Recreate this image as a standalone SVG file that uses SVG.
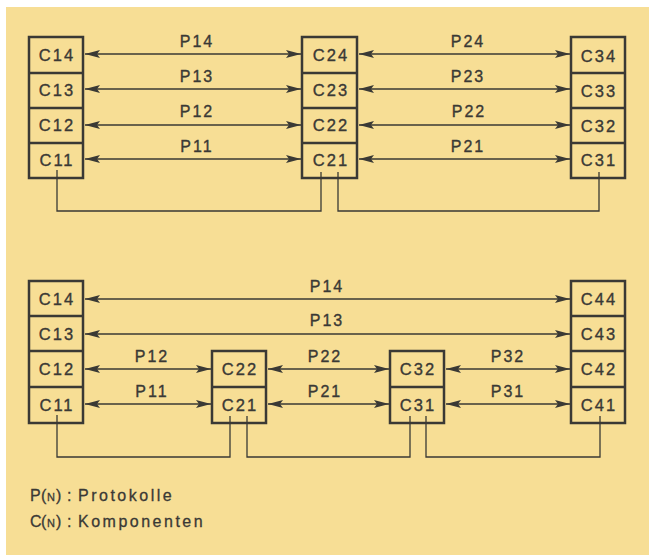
<svg xmlns="http://www.w3.org/2000/svg" width="649" height="555" viewBox="0 0 649 555">
<defs>
<marker id="ah" viewBox="0 0 15 8" refX="15" refY="4" markerWidth="15" markerHeight="8" markerUnits="userSpaceOnUse" orient="auto-start-reverse">
<path d="M0,0 L15,4 L0,8 L3,4 Z" fill="#3a3935"/>
</marker>
<style>
.box{fill:none;stroke:#3a3935;stroke-width:2.5}
.div{stroke:#3a3935;stroke-width:2.5}
.lbl{font-family:"Liberation Sans",Arial,sans-serif;font-size:16.5px;fill:#3a3935;stroke:#3a3935;stroke-width:0.35;text-anchor:middle;letter-spacing:2px}
.plb{font-family:"Liberation Sans",Arial,sans-serif;font-size:16px;fill:#3a3935;stroke:#3a3935;stroke-width:0.35;text-anchor:middle;letter-spacing:2px}
.arr{stroke:#3a3935;stroke-width:1.4;fill:none;marker-start:url(#ah);marker-end:url(#ah)}
.wire{stroke:#3a3935;stroke-width:1.3;fill:none}
.leg{font-family:"Liberation Sans",Arial,sans-serif;font-size:16px;fill:#3a3935;stroke:#3a3935;stroke-width:0.3}
.sc{font-size:11px}
.wd{letter-spacing:2.5px}
</style>
</defs>
<rect x="0" y="0" width="649" height="555" fill="#ffffff"/>
<rect x="6" y="7" width="643" height="548" fill="#f7de95"/>

<!-- TOP SECTION -->
<g id="top-col1">
<rect class="box" x="29" y="37" width="54" height="141"/>
<line class="div" x1="29" y1="73" x2="83" y2="73"/>
<line class="div" x1="29" y1="108" x2="83" y2="108"/>
<line class="div" x1="29" y1="143" x2="83" y2="143"/>
<text class="lbl" x="57" y="61">C14</text>
<text class="lbl" x="57" y="96">C13</text>
<text class="lbl" x="57" y="131">C12</text>
<text class="lbl" x="57" y="166">C11</text>
</g>
<g id="top-col2">
<rect class="box" x="302" y="37" width="55" height="141"/>
<line class="div" x1="302" y1="73" x2="357" y2="73"/>
<line class="div" x1="302" y1="108" x2="357" y2="108"/>
<line class="div" x1="302" y1="143" x2="357" y2="143"/>
<text class="lbl" x="331" y="61">C24</text>
<text class="lbl" x="331" y="96">C23</text>
<text class="lbl" x="331" y="131">C22</text>
<text class="lbl" x="331" y="166">C21</text>
</g>
<g id="top-col3">
<rect class="box" x="571" y="37" width="54" height="141"/>
<line class="div" x1="571" y1="73" x2="625" y2="73"/>
<line class="div" x1="571" y1="108" x2="625" y2="108"/>
<line class="div" x1="571" y1="143" x2="625" y2="143"/>
<text class="lbl" x="599" y="62">C34</text>
<text class="lbl" x="599" y="97">C33</text>
<text class="lbl" x="599" y="132">C32</text>
<text class="lbl" x="599" y="166">C31</text>
</g>

<!-- BOTTOM SECTION -->
<g id="bot-col1">
<rect class="box" x="29" y="281" width="54" height="142"/>
<line class="div" x1="29" y1="316" x2="83" y2="316"/>
<line class="div" x1="29" y1="351" x2="83" y2="351"/>
<line class="div" x1="29" y1="387" x2="83" y2="387"/>
<text class="lbl" x="57" y="305">C14</text>
<text class="lbl" x="57" y="340">C13</text>
<text class="lbl" x="57" y="375">C12</text>
<text class="lbl" x="57" y="411">C11</text>
</g>
<g id="bot-col2">
<rect class="box" x="212" y="351" width="54" height="72"/>
<line class="div" x1="212" y1="387" x2="266" y2="387"/>
<text class="lbl" x="240" y="375">C22</text>
<text class="lbl" x="240" y="411">C21</text>
</g>
<g id="bot-col3">
<rect class="box" x="390" y="351" width="54" height="72"/>
<line class="div" x1="390" y1="387" x2="444" y2="387"/>
<text class="lbl" x="418" y="375">C32</text>
<text class="lbl" x="418" y="411">C31</text>
</g>
<g id="bot-col4">
<rect class="box" x="571" y="281" width="54" height="142"/>
<line class="div" x1="571" y1="316" x2="625" y2="316"/>
<line class="div" x1="571" y1="351" x2="625" y2="351"/>
<line class="div" x1="571" y1="387" x2="625" y2="387"/>
<text class="lbl" x="599" y="305">C44</text>
<text class="lbl" x="599" y="340">C43</text>
<text class="lbl" x="599" y="375">C42</text>
<text class="lbl" x="599" y="411">C41</text>
</g>

<g id="connectors">
<!-- top arrows -->
<line class="arr" x1="85" y1="54" x2="301" y2="54"/>
<line class="arr" x1="85" y1="89" x2="301" y2="89"/>
<line class="arr" x1="85" y1="125" x2="301" y2="125"/>
<line class="arr" x1="85" y1="159" x2="301" y2="159"/>
<line class="arr" x1="359" y1="54" x2="570" y2="54"/>
<line class="arr" x1="359" y1="89" x2="570" y2="89"/>
<line class="arr" x1="359" y1="125" x2="570" y2="125"/>
<line class="arr" x1="359" y1="159" x2="570" y2="159"/>
<polyline class="wire" points="57,170 57,211 321,211 321,172"/>
<polyline class="wire" points="338,172 338,211 599,211 599,172"/>
<!-- bottom arrows -->
<line class="arr" x1="85" y1="299" x2="570" y2="299"/>
<line class="arr" x1="85" y1="334" x2="570" y2="334"/>
<line class="arr" x1="85" y1="369" x2="211" y2="369"/>
<line class="arr" x1="85" y1="404" x2="211" y2="404"/>
<line class="arr" x1="268" y1="369" x2="389" y2="369"/>
<line class="arr" x1="268" y1="404" x2="389" y2="404"/>
<line class="arr" x1="446" y1="369" x2="570" y2="369"/>
<line class="arr" x1="446" y1="404" x2="570" y2="404"/>
<polyline class="wire" points="57,415 57,457 230,457 230,416"/>
<polyline class="wire" points="247,416 247,457 410,457 410,416"/>
<polyline class="wire" points="426,416 426,457 600,457 600,416"/>
</g>

<g id="labels">
<text class="plb" x="197" y="47">P14</text>
<text class="plb" x="197" y="82">P13</text>
<text class="plb" x="197" y="117">P12</text>
<text class="plb" x="197" y="152">P11</text>
<text class="plb" x="468" y="47">P24</text>
<text class="plb" x="468" y="82">P23</text>
<text class="plb" x="469" y="117">P22</text>
<text class="plb" x="468" y="152">P21</text>
<text class="plb" x="327" y="292">P14</text>
<text class="plb" x="327" y="326">P13</text>
<text class="plb" x="152" y="362">P12</text>
<text class="plb" x="152" y="397">P11</text>
<text class="plb" x="325" y="362">P22</text>
<text class="plb" x="325" y="397">P21</text>
<text class="plb" x="508" y="362">P32</text>
<text class="plb" x="508" y="397">P31</text>
</g>

<g id="legend">
<text class="leg" y="501"><tspan x="30">P</tspan><tspan x="41">(</tspan><tspan class="sc" x="47">N</tspan><tspan x="56">)</tspan><tspan x="67">:</tspan><tspan class="wd" x="78">Protokolle</tspan></text>
<text class="leg" y="527"><tspan x="30">C</tspan><tspan x="41">(</tspan><tspan class="sc" x="47">N</tspan><tspan x="56">)</tspan><tspan x="67">:</tspan><tspan class="wd" x="78">Komponenten</tspan></text>
</g>
</svg>
